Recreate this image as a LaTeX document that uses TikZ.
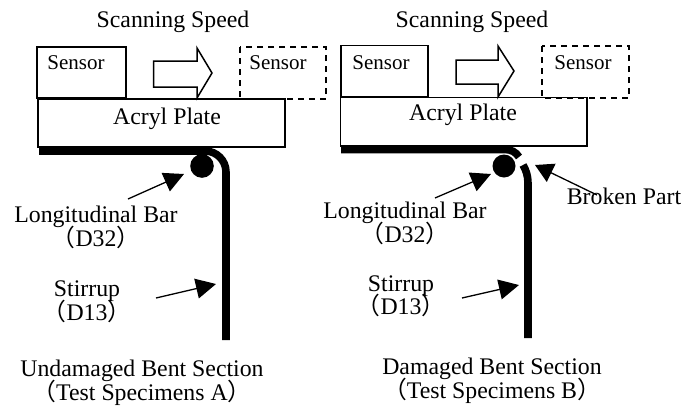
\documentclass[tikz,border=0pt]{standalone}
\usepackage{fontspec}
\setmainfont{Liberation Serif}
\newfontfamily\cjk{Noto Sans CJK JP}
\usetikzlibrary{arrows.meta}
\newcommand{\lp}{\smash{\cjk\symbol{"FF08}}}
\newcommand{\rp}{\smash{\cjk\symbol{"FF09}}}
\tikzset{
  lab/.style={inner sep=0pt,outer sep=0pt,anchor=base,font=\fontsize{23.8}{26}\selectfont},
  senslab/.style={inner sep=0pt,outer sep=0pt,anchor=base,font=\fontsize{21}{24}\selectfont},
  boxline/.style={draw=black,line width=1.3pt,line join=miter},
  dashbox/.style={draw=black,line width=1.3pt,dash pattern=on 6pt off 5pt},
  blockarrow/.style={draw=black,fill=white,line width=1.5pt,line join=miter},
  rebar/.style={draw=black,line width=7.6pt},
  pointer/.style={draw=black,line width=1.3pt,-{Triangle[length=20pt,width=20pt]}},
  pointerb/.style={draw=black,line width=1.3pt,-{Triangle[length=18pt,width=20pt]}}
}
\begin{document}
\begin{tikzpicture}[x=1pt,y=-1pt]
\useasboundingbox (0,0) rectangle (689,410);
\fill[white] (0,0) rectangle (689,410);
% left
\node[lab] (ssA) at (173,27) {Scanning Speed};
\draw[boxline] (37,47) rectangle (126,98);
\node[senslab] (sA) at (76,69) {Sensor};
\draw[blockarrow] (153.5,61) -- (197,61) -- (197,48) -- (212,73) -- (197,98) -- (197,87) -- (153.5,87) -- cycle;
\draw[dashbox] (240,47) rectangle (326,99);
\node[senslab] (sA2) at (278,69) {Sensor};
\draw[boxline] (38,99) rectangle (285,147);
\node[lab] (apA) at (167,124) {Acryl Plate};
\draw[rebar] (39,151) -- (205,151) arc[start angle=-90,end angle=0,radius=21] -- (226,340);
\fill[black] (202,166) circle[radius=11.8];
\coordinate (barA) at (184,174);
\coordinate (barAs) at (128,199);
\draw[pointer] (barAs) -- (barA);
\node[lab] (lbA) at (96,222) {Longitudinal Bar};
\node[lab] (d32A) at (96,246) {\lp D32\rp};
\node[lab] (stA) at (87,296) {Stirrup};
\node[lab] (d13A) at (87,320) {\lp D13\rp};
\coordinate (stirA) at (216,284);
\coordinate (stirAs) at (156,298);
\draw[pointer] (stirAs) -- (stirA);
\node[lab] (uA) at (142,376) {Undamaged Bent Section};
\node[lab] (tA) at (142,400) {\lp Test Specimens A\rp};
% right
\node[lab] (ssB) at (472,27) {Scanning Speed};
\draw[boxline] (341,45.5) rectangle (428,97);
\node[senslab] (sB) at (381,69) {Sensor};
\draw[blockarrow] (456,60) -- (498,60) -- (498,46) -- (514,71) -- (498,97) -- (498,84) -- (456,84) -- cycle;
\draw[dashbox] (542,46) rectangle (629,98);
\node[senslab] (sB2) at (583,69) {Sensor};
\draw[boxline] (340.5,97.5) rectangle (587,146);
\node[lab] (apB) at (463,120) {Acryl Plate};
\draw[rebar] (341,149.5) -- (505,149.5) .. controls (511,149.5) and (516,152) .. (519,157);
\draw[rebar] (523,165) .. controls (526,170) and (528,176) .. (528,183) -- (528,338);
\fill[black] (504,166) circle[radius=11.5];
\coordinate (barB) at (491,174);
\coordinate (barBs) at (435,198);
\draw[pointer] (barBs) -- (barB);
\coordinate (brk) at (535,165);
\coordinate (brks) at (597,195);
\draw[pointerb] (brks) -- (brk);
\node[lab] (bp) at (624,204) {Broken Part};
\node[lab] (lbB) at (405,218) {Longitudinal Bar};
\node[lab] (d32B) at (405,242) {\lp D32\rp};
\node[lab] (stB) at (401,291) {Stirrup};
\node[lab] (d13B) at (401,314) {\lp D13\rp};
\coordinate (stirB) at (519,285);
\coordinate (stirBs) at (462,298);
\draw[pointer] (stirBs) -- (stirB);
\node[lab] (uB) at (492,374.5) {Damaged Bent Section};
\node[lab] (tB) at (492,398.5) {\lp Test Specimens B\rp};
\end{tikzpicture}
\end{document}
